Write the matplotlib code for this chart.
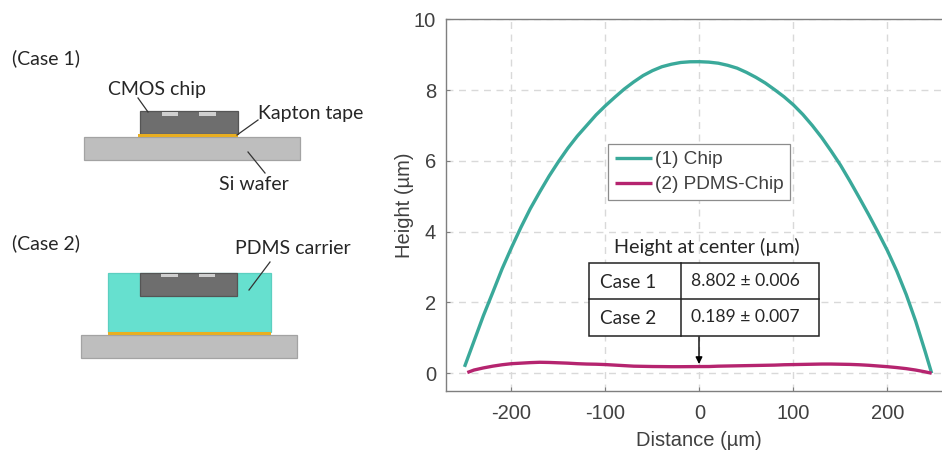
import matplotlib
matplotlib.use("Agg")
import matplotlib.pyplot as plt
from matplotlib.patches import Rectangle
from matplotlib.ticker import FuncFormatter

# ---- data ----
chip_x = [-250, -240, -230, -220, -210, -200, -190, -180, -170, -160, -150, -140, -130, -120, -110, -100,
          -90, -80, -70, -60, -50, -40, -30, -20, -10, 0,
          10, 20, 30, 40, 50, 60, 70, 80, 90, 100, 110, 120, 130, 140, 150, 160, 170, 180, 190, 200,
          210, 220, 230, 240, 247]
chip_y = [0.18, 0.90, 1.62, 2.28, 2.95, 3.55, 4.12, 4.65, 5.12, 5.57, 5.98, 6.36, 6.70, 7.00, 7.30, 7.56,
          7.80, 8.03, 8.23, 8.41, 8.55, 8.66, 8.73, 8.78, 8.80, 8.802,
          8.79, 8.76, 8.70, 8.62, 8.50, 8.36, 8.20, 8.01, 7.81, 7.58, 7.31, 7.00, 6.66, 6.28, 5.88, 5.43,
          4.96, 4.48, 3.98, 3.46, 2.88, 2.22, 1.47, 0.62, 0.0]
pdms_x = [-247, -240, -230, -220, -210, -200, -190, -180, -170, -160, -150, -140, -130, -120, -110, -100,
          -90, -80, -70, -60, -50, -40, -30, -20, -10, 0,
          10, 20, 30, 40, 50, 60, 70, 80, 90, 100, 110, 120, 130, 140, 150, 160, 170, 180, 190, 200,
          210, 220, 230, 240, 247]
pdms_y = [0.02, 0.09, 0.15, 0.20, 0.24, 0.27, 0.285, 0.30, 0.31, 0.305, 0.295, 0.285, 0.27, 0.26, 0.255, 0.245,
          0.23, 0.215, 0.20, 0.195, 0.19, 0.188, 0.185, 0.185, 0.187, 0.189,
          0.19, 0.20, 0.205, 0.21, 0.215, 0.22, 0.225, 0.23, 0.24, 0.245, 0.25, 0.255, 0.26, 0.26, 0.255, 0.25,
          0.24, 0.225, 0.205, 0.185, 0.16, 0.13, 0.09, 0.04, 0.0]
series_labels = ["(1) Chip", "(2) PDMS-Chip"]
x_ticks = [-200, -100, 0, 100, 200]
y_ticks = [0, 2, 4, 6, 8, 10]
table_title = "Height at center (µm)"
table_cases = ["Case 1", "Case 2"]
table_values = ["8.802 ± 0.006", "0.189 ± 0.007"]

W, H = 942, 450
TEAL, MAGENTA = "#3AA99A", "#B5246F"
SPINE, TXT = "#7f7f7f", "#404040"
CAL = ["Lato", "DejaVu Sans"]
ARI = ["Liberation Sans", "DejaVu Sans"]

fig = plt.figure(figsize=(W / 100, H / 100), dpi=100, facecolor="white")

# ---- plot ----
L, R, T, B = 445.7, 942, 19.3, 391.3
ax = fig.add_axes([L / W, 1 - B / H, (R - L) / W, (B - T) / H])
ax.set_xlim(-270, 258)
ax.set_ylim(-0.51, 10)
ax.plot(chip_x, chip_y, color=TEAL, lw=2.4, label=series_labels[0], solid_capstyle="butt")
ax.plot(pdms_x, pdms_y, color=MAGENTA, lw=2.4, label=series_labels[1], solid_capstyle="butt")
ax.set_xticks(x_ticks)
ax.set_yticks(y_ticks)
ax.tick_params(direction="in", length=3, width=0.8, color=SPINE, labelcolor=TXT, labelsize=14.5)
ax.tick_params(axis="x", pad=9)
ax.tick_params(axis="y", pad=7)
for lab in ax.get_xticklabels() + ax.get_yticklabels():
    lab.set_family(ARI)
ax.xaxis.set_major_formatter(FuncFormatter(lambda v, _: f"{v:.0f}"))
ax.grid(True, color="#d9d9d9", ls=(0, (5, 4)), lw=1.0)
ax.set_axisbelow(True)
ax.spines["right"].set_visible(False)
for s in ("left", "top", "bottom"):
    ax.spines[s].set_color(SPINE)
    ax.spines[s].set_linewidth(1.0)
ax.set_xlabel("Distance (µm)", family=ARI, fontsize=14.5, color=TXT)
ax.xaxis.set_label_coords((699 - L) / (R - L), -(440 - B) / (B - T), transform=ax.transAxes)
ax.xaxis.label.set_va("center")
ax.set_ylabel("Height (µm)", family=ARI, fontsize=14.5, color=TXT, labelpad=0)
leg = ax.legend(loc="upper left", bbox_to_anchor=(608 / W, 1 - 144.3 / H), bbox_transform=fig.transFigure,
                borderaxespad=0, fancybox=False, framealpha=1, edgecolor="#8c8c8c",
                prop={"family": ARI, "size": 13.7}, labelcolor=TXT, handlelength=1.95,
                handletextpad=0.15, labelspacing=0.40, borderpad=0.36)
leg.get_frame().set_linewidth(0.9)

# ---- schematic + table overlay, in image pixels ----
ov = fig.add_axes([0, 0, 1, 1], facecolor="none")
ov.set_xlim(0, W)
ov.set_ylim(H, 0)
ov.axis("off")


def box(x0, x1, y0, y1, fc, ec=None, lw=0.9):
    ov.add_patch(Rectangle((x0, y0), x1 - x0, y1 - y0, fc=fc, ec=ec or "none", lw=lw))


def leader(x0, y0, x1, y1):
    ov.plot([x0, x1], [y0, y1], color="#333333", lw=0.9)


def label(x, y, s, size=14, ha="left"):
    ov.text(x, y, s, family=CAL, fontsize=size, color="#262626", va="center", ha=ha)


GR, GRE, CH, CHE, KA, PD, PA = "#BEBEBE", "#A3A3A3", "#6E6E6E", "#555555", "#E8AE22", "#66E0CF", "#CFCFCF"
# Case 1
box(83.5, 299.5, 137.3, 159.7, GR, GRE)
box(140, 238, 111, 134, CH, CHE)
box(138, 238, 134.3, 137.3, KA)
box(162, 178, 112, 115.5, PA)
box(199, 216, 112, 115.5, PA)
leader(138, 98, 148, 112)
leader(258, 120, 237, 135)
leader(248, 152, 265, 173)
label(12, 58, "(Case 1)")
label(108, 89, "CMOS chip")
label(258, 113, "Kapton tape")
label(219, 184, "Si wafer")
# Case 2
box(81, 297, 335, 358, GR, GRE)
box(107.5, 270.7, 272.7, 332, PD, "#5CCFC0")
box(140, 237, 272.7, 295.7, CH, CHE)
box(107.5, 271, 332, 335, KA)
box(161, 178, 273.5, 277, PA)
box(199, 215, 273.5, 277, PA)
leader(270, 262, 249, 290)
label(12, 243, "(Case 2)")
label(235, 248, "PDMS carrier")

# Table
ov.text(706.7, 247, table_title, family=CAL, fontsize=14.2, color="#262626", ha="center", va="center")
ov.add_patch(Rectangle((589, 263.3), 230, 72.4, fc="white", ec="#222222", lw=1.1))
ov.plot([589, 819], [299.3, 299.3], color="#222222", lw=1.1)
ov.plot([681.3, 681.3], [263.3, 335.7], color="#222222", lw=1.1)
for yy, c, v in zip((282, 318), table_cases, table_values):
    ov.text(599.5, yy, c, family=CAL, fontsize=13.7, color="#262626", va="center")
    ov.text(690.7, yy - 1, v, family=CAL, fontsize=12.6, color="#262626", va="center")
ov.annotate("", xy=(699, 364), xytext=(699, 337),
            arrowprops=dict(arrowstyle="-|>", color="black", lw=1.0, mutation_scale=10, shrinkA=0, shrinkB=0))

fig.savefig("out.png", dpi=100)
